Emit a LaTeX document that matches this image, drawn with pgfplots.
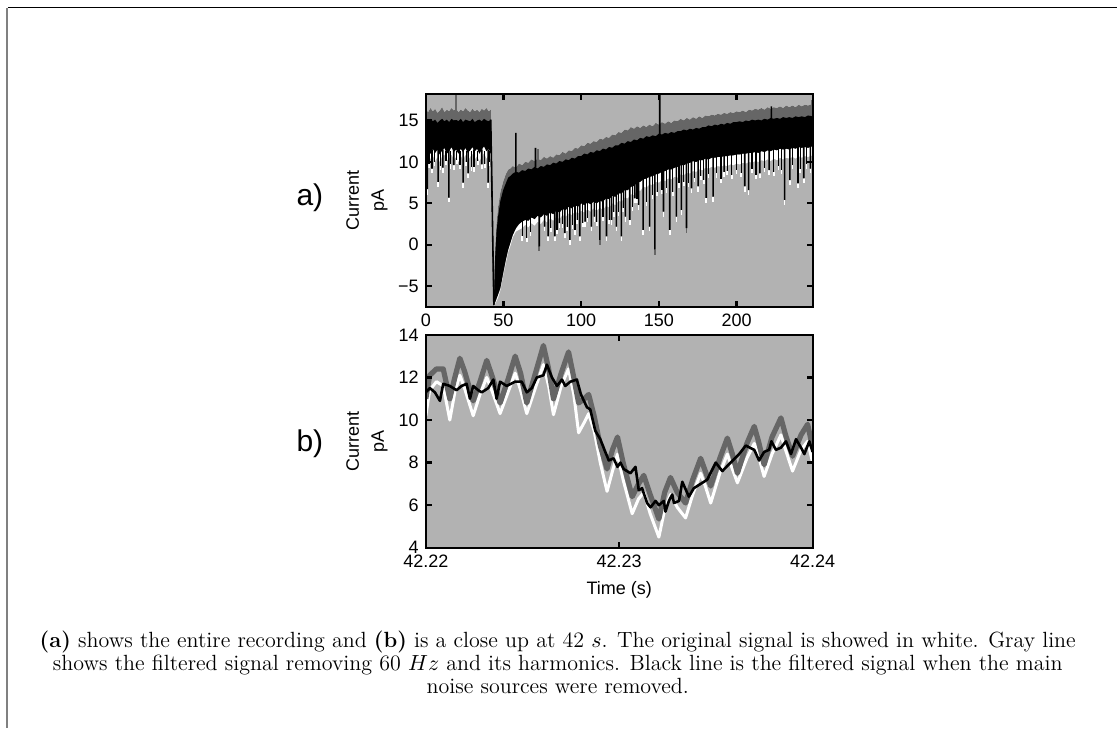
\documentclass[border=0pt]{standalone}
\usepackage{fontspec}
\newfontfamily\arial{Liberation Sans}
\usepackage{pgfplots}
\usepackage{pgfplotstable}
\pgfplotsset{compat=1.18}
\usepgfplotslibrary{fillbetween}
\definecolor{bggray}{gray}{0.7}
\definecolor{dgray}{gray}{0.4}
\definecolor{framegray}{gray}{0.5}

% envelopes of the whole recording: gray top, black top, black bottom, white bottom
\pgfplotstableread{
x gt bt bl wl
0 16.3 15.0 10.5 9.6
1.5 16.0 14.8 11.2 10.0
3 16.5 15.2 11.0 10.4
4.5 16.1 14.9 11.6 10.8
6 16.4 15.1 11.1 10.1
7.5 15.9 14.7 11.5 10.6
9 16.2 15.0 10.9 10.0
10.5 16.6 15.2 11.4 10.7
12 16.0 14.9 11.7 10.9
13.5 16.3 15.1 11.0 10.2
15 16.1 14.8 11.3 10.4
16.5 16.5 15.2 11.8 10.9
18 16.2 15.0 11.2 10.3
19.5 16.4 15.1 11.5 10.6
21 16.0 14.9 11.0 10.0
22.5 16.3 15.2 11.6 10.8
24 16.1 14.8 11.2 10.2
25.5 16.5 15.1 11.7 10.9
27 16.2 15.0 11.1 10.1
28.5 16.0 14.9 11.4 10.6
30 16.4 15.2 11.8 11.0
31.5 16.1 14.8 11.3 10.3
33 16.3 15.0 11.6 10.7
34.5 16.0 15.1 11.0 10.1
36 16.4 14.9 11.5 10.6
37.5 16.2 15.2 11.9 11.1
39 16.5 15.0 11.3 10.4
40.5 16.1 14.9 11.6 10.8
41.8 16.3 15.1 11.0 10.3
42.6 12 10 4 3
43.3 2 0 -5 -5.5
43.8 -7.0 -7.3 -7.4 -7.5
44.5 -1.0 -2.0 -7.0 -7.2
45.5 2.5 1.5 -6.5 -6.8
46.5 4.5 3.4 -6.0 -6.4
48 6.3 5.3 -5.2 -5.5
49.8 7.6 6.6 -3.4 -3.7
51.5 8.5 7.4 -1.8 -2.2
53 9.05 8.1 -0.6 -0.9
54.5 9.2 8.3 0.3 -0.1
56 9.5 8.6 1.2 0.9
58 9.3 8.8 2.0 1.6
60 9.8 8.7 2.5 1.8
62 9.6 9.0 2.8 2.0
64 10.0 8.9 3.0 2.4
66 9.9 9.2 2.9 2.1
68 10.3 9.1 3.3 2.6
70 10.1 9.4 3.1 2.3
72 10.4 9.2 3.5 2.8
74 10.2 9.5 3.3 2.5
76 10.6 9.4 3.7 3.0
78 10.4 9.7 3.5 2.7
80 10.7 9.6 3.9 3.2
82 10.5 9.9 3.7 2.9
84 10.9 9.8 4.1 3.4
86 10.8 10.1 3.9 3.1
88 11.2 10.0 4.3 3.6
90 11.0 10.3 4.2 3.4
92 11.4 10.2 4.6 3.8
94 11.3 10.5 4.4 3.6
96 11.7 10.4 4.8 4.0
98 11.6 10.7 4.6 3.8
100 12.0 10.7 5.0 4.1
102 11.9 11.0 4.8 3.9
104 12.3 10.9 5.1 4.3
106 12.2 11.2 4.9 4.0
108 12.5 11.1 5.2 4.4
110 12.4 11.4 5.0 4.1
112 12.8 11.3 5.3 4.5
114 12.7 11.6 5.2 4.2
116 13.0 11.5 5.6 4.7
118 12.9 11.8 5.5 4.5
120 13.3 11.7 5.9 5.0
122 13.2 12.0 5.8 4.8
124 13.6 12.0 6.2 5.3
126 13.5 12.3 6.2 5.2
128 13.9 12.2 6.6 5.7
130 13.8 12.5 6.6 5.6
132 14.2 12.4 7.0 6.1
134 14.0 12.7 7.1 6.0
136 14.3 12.6 7.5 6.6
138 14.1 12.9 7.6 6.5
140 14.4 12.8 7.9 7.0
142 14.2 13.1 8.0 6.9
144 14.5 13.0 8.2 7.3
146 14.3 13.2 8.3 7.2
148 14.7 13.1 8.5 7.6
150 14.5 13.4 8.6 7.5
152 14.8 13.3 8.8 7.8
154 14.6 13.5 8.9 7.7
156 14.9 13.4 9.1 8.0
158 14.7 13.6 9.1 7.9
160 15.0 13.5 9.3 8.2
162 14.9 13.7 9.4 8.1
164 15.2 13.7 9.6 8.5
166 15.0 13.9 9.6 8.4
168 15.3 13.8 9.8 8.7
170 15.1 14.0 9.9 8.6
172 15.4 13.9 10.1 8.9
174 15.2 14.1 10.0 8.8
176 15.5 14.0 10.2 9.1
178 15.3 14.2 10.2 9.0
180 15.6 14.2 10.4 9.3
182 15.5 14.4 10.3 9.2
184 15.7 14.3 10.5 9.4
186 15.6 14.5 10.5 9.3
188 15.8 14.4 10.6 9.5
190 15.7 14.6 10.6 9.4
192 15.9 14.5 10.7 9.6
194 15.8 14.7 10.7 9.5
196 16.0 14.6 10.8 9.7
198 15.9 14.8 10.8 9.6
200 16.1 14.8 10.9 9.8
202 16.0 14.9 10.9 9.7
204 16.2 14.8 11.0 9.9
206 16.0 15.0 11.0 9.8
208 16.3 14.9 11.1 10.0
210 16.2 15.1 11.1 9.9
212 16.4 15.0 11.2 10.1
214 16.3 15.1 11.1 10.0
216 16.5 15.0 11.3 10.2
218 16.3 15.2 11.2 10.1
220 16.6 15.1 11.4 10.3
222 16.4 15.3 11.3 10.1
224 16.6 15.2 11.5 10.4
226 16.5 15.3 11.4 10.2
228 16.7 15.2 11.6 10.5
230 16.5 15.4 11.5 10.3
232 16.8 15.3 11.6 10.5
234 16.6 15.4 11.5 10.4
236 16.8 15.3 11.7 10.6
238 16.6 15.5 11.6 10.4
240 16.9 15.4 11.8 10.7
242 16.7 15.5 11.7 10.5
244 16.9 15.4 11.8 10.7
246 16.8 15.6 11.7 10.6
249 17.0 15.5 11.9 10.8
}\recdata

\pgfplotsset{
  matlab/.style={
    scale only axis, width=193.5pt, height=106.5pt,
    axis background/.style={fill=bggray},
    axis on top,
    axis line style={line width=1.1pt},
    tick style={line width=1.1pt, black},
    tick align=inside, major tick length=3pt,
    tick label style={font=\arial\fontsize{9}{10}\selectfont},
    label style={font=\arial\fontsize{9}{12.5}\selectfont},
    ylabel style={at={(axis description cs:-0.152,0.5)}, anchor=center, align=center},
  }
}

\begin{document}
\begin{tikzpicture}
\draw[black, line width=0.5pt] (4pt,360pt) -- (558.5pt,360pt);
\draw[framegray, line width=1pt] (3.75pt,360pt) -- (3.75pt,0pt);

% a) whole recording
\begin{axis}[matlab, at={(213pt,210.5pt)}, anchor=south west,
  xmin=0, xmax=249, ymin=-7.5, ymax=18.2,
  xtick={0,50,100,150,200}, xticklabels={0,50,100,150,200},
  ytick={-5,0,5,10,15}, yticklabels={−5,0,5,10,15},
  ylabel={Current\\pA}]
\addplot[draw=none, name path=gt] table[x=x, y=gt] {\recdata};
\addplot[draw=none, name path=bt] table[x=x, y=bt] {\recdata};
\addplot[draw=none, name path=bl] table[x=x, y=bl] {\recdata};
\addplot[draw=none, name path=wl] table[x=x, y=wl] {\recdata};
\addplot[white] fill between[of=gt and wl];
\addplot[dgray] fill between[of=gt and bl];
\addplot[black] fill between[of=bt and bl];
% white tips of the downward spikes
\addplot[white, line width=0.8pt, unbounded coords=jump] coordinates {
(0.9,6.7)(0.9,6.0)(0.9,nan) (4.0,9.2)(4.0,8.6)(4.0,nan) (7.9,7.6)(7.9,7.0)(7.9,nan)
(11.0,9.3)(11.0,8.7)(11.0,nan) (14.8,5.7)(14.8,5.1)(14.8,nan) (18.0,9.6)(18.0,9.0)(18.0,nan)
(24.0,7.5)(24.0,6.9)(24.0,nan) (27.2,8.6)(27.2,8.0)(27.2,nan) (31.0,9.4)(31.0,8.8)(31.0,nan)
(36.0,9.7)(36.0,9.1)(36.0,nan) (40.1,7.5)(40.1,6.9)(40.1,nan)
(76.5,2.2)(76.5,1.6)(76.5,nan) (78.7,1.0)(78.7,0.4)(78.7,nan) (83.0,1.0)(83.0,0.4)(83.0,nan)
(86.0,2.6)(86.0,2.0)(86.0,nan) (89.4,1.4)(89.4,0.8)(89.4,nan) (92.7,0.6)(92.7,0.0)(92.7,nan)
(96.0,1.8)(96.0,1.2)(96.0,nan) (99.1,1.0)(99.1,0.4)(99.1,nan) (102.5,2.8)(102.5,2.2)(102.5,nan)
(106.6,2.2)(106.6,1.6)(106.6,nan) (108.5,3.4)(108.5,2.8)(108.5,nan) (116.3,1.0)(116.3,0.4)(116.3,nan)
(119.5,3.0)(119.5,2.4)(119.5,nan) (122.7,2.2)(122.7,1.6)(122.7,nan) (125.9,1.0)(125.9,0.4)(125.9,nan)
(128.5,3.4)(128.5,2.8)(128.5,nan) (131.3,3.0)(131.3,2.4)(131.3,nan) (134.5,5.6)(134.5,5.0)(134.5,nan)
(137.0,4.8)(137.0,4.2)(137.0,nan) (139.9,1.8)(139.9,1.2)(139.9,nan) (144.1,2.2)(144.1,1.6)(144.1,nan)
(153.0,4.0)(153.0,3.4)(153.0,nan) (157.0,1.8)(157.0,1.2)(157.0,nan) (161.3,3.4)(161.3,2.8)(161.3,nan)
(164.5,4.2)(164.5,3.6)(164.5,nan) (171.0,6.8)(171.0,6.2)(171.0,nan) (175.3,7.05)(175.3,6.4)(175.3,nan)
(180.5,5.65)(180.5,5.0)(180.5,nan) (184.9,5.8)(184.9,5.2)(184.9,nan) (192.0,8.8)(192.0,8.2)(192.0,nan)
(205.3,7.05)(205.3,6.4)(205.3,nan) (207.8,6.6)(207.8,6.0)(207.8,nan) (215.0,8.6)(215.0,8.0)(215.0,nan)
(221.0,9.0)(221.0,8.4)(221.0,nan) (231.0,5.4)(231.0,4.8)(231.0,nan) (234.3,7.8)(234.3,7.2)(234.3,nan)
(239.6,7.4)(239.6,6.8)(239.6,nan) (243.3,8.0)(243.3,7.4)(243.3,nan) (247.5,9.2)(247.5,8.6)(247.5,nan)
(2,9.8)(2,9.3)(2,nan) (5.5,10.0)(5.5,9.5)(5.5,nan) (9.5,9.5)(9.5,9.0)(9.5,nan) (13,10.1)(13,9.6)(13,nan)
(16,9.7)(16,9.2)(16,nan) (20,10.2)(20,9.7)(20,nan) (22,9.6)(22,9.1)(22,nan) (26,10.0)(26,9.5)(26,nan)
(29.5,9.4)(29.5,8.9)(29.5,nan) (33.5,10.1)(33.5,9.6)(33.5,nan) (38,9.8)(38,9.3)(38,nan) (41,10.0)(41,9.5)(41,nan)
(62,1.0)(62,0.5)(62,nan) (65,0.8)(65,0.3)(65,nan) (67.5,1.5)(67.5,1.0)(67.5,nan) (80.5,2.0)(80.5,1.5)(80.5,nan)
(84.5,1.8)(84.5,1.3)(84.5,nan) (88,2.5)(88,2.0)(88,nan) (91,2.2)(91,1.7)(91,nan) (94.5,2.4)(94.5,1.9)(94.5,nan)
(97.5,3.0)(97.5,2.5)(97.5,nan) (101,2.6)(101,2.1)(101,nan) (104,3.2)(104,2.7)(104,nan) (110,2.8)(110,2.3)(110,nan)
(114,3.4)(114,2.9)(114,nan) (118,3.0)(118,2.5)(118,nan) (121,3.9)(121,3.4)(121,nan) (124,4.0)(124,3.5)(124,nan)
(127,4.4)(127,3.9)(127,nan) (133,4.6)(133,4.1)(133,nan) (136,5.5)(136,5.0)(136,nan) (142,5.2)(142,4.7)(142,nan)
(146,6.0)(146,5.5)(146,nan) (149,6.4)(149,5.9)(149,nan) (152,6.6)(152,6.1)(152,nan) (155,6.8)(155,6.3)(155,nan)
(159,6.4)(159,5.9)(159,nan) (163,7.4)(163,6.9)(163,nan) (166,7.6)(166,7.1)(166,nan) (169,7.5)(169,7.0)(169,nan)
(173,8.1)(173,7.6)(173,nan) (177,8.3)(177,7.8)(177,nan) (179,7.8)(179,7.3)(179,nan) (182,8.5)(182,8.0)(182,nan)
(187,8.6)(187,8.1)(187,nan) (190,7.9)(190,7.4)(190,nan) (194,8.9)(194,8.4)(194,nan) (197,8.4)(197,7.9)(197,nan)
(200,9.0)(200,8.5)(200,nan) (203,8.7)(203,8.2)(203,nan) (210,9.1)(210,8.6)(210,nan) (212.5,8.4)(212.5,7.9)(212.5,nan)
(218,9.3)(218,8.8)(218,nan) (224,8.8)(224,8.3)(224,nan) (227,9.5)(227,9.0)(227,nan) (229,9.0)(229,8.5)(229,nan)
(236,9.6)(236,9.1)(236,nan) (241,9.1)(241,8.6)(241,nan) (245,9.7)(245,9.2)(245,nan)
};
% gray tips and gray upward spikes
\addplot[dgray, line width=0.8pt, unbounded coords=jump] coordinates {
(73.0,-0.2)(73.0,-0.8)(73.0,nan) (112.0,0.6)(112.0,0.0)(112.0,nan)
(147.4,-0.6)(147.4,-1.2)(147.4,nan) (167.8,2.0)(167.8,1.4)(167.8,nan)
(19.3,15.0)(19.3,18.2)(19.3,nan) (72.3,9.5)(72.3,11.5)(72.3,nan) (248.5,15.5)(248.5,17.5)(248.5,nan)
};
% black spikes
\addplot[black, line width=0.8pt, unbounded coords=jump] coordinates {
(0.9,11.5)(0.9,6.7)(0.9,nan) (4.0,11.5)(4.0,9.2)(4.0,nan) (7.9,11.5)(7.9,7.6)(7.9,nan)
(11.0,11.5)(11.0,9.3)(11.0,nan) (14.8,11.5)(14.8,5.7)(14.8,nan) (18.0,11.5)(18.0,9.6)(18.0,nan)
(24.0,11.5)(24.0,7.5)(24.0,nan) (27.2,11.5)(27.2,8.6)(27.2,nan) (31.0,11.5)(31.0,9.4)(31.0,nan)
(36.0,11.5)(36.0,9.7)(36.0,nan) (40.1,11.5)(40.1,7.5)(40.1,nan)
(73.0,3.8)(73.0,-0.2)(73.0,nan) (76.5,3.9)(76.5,2.2)(76.5,nan) (78.7,4.0)(78.7,1.0)(78.7,nan)
(83.0,4.0)(83.0,1.0)(83.0,nan) (86.0,4.3)(86.0,2.6)(86.0,nan) (89.4,4.4)(89.4,1.4)(89.4,nan)
(92.7,4.6)(92.7,0.6)(92.7,nan) (96.0,4.8)(96.0,1.8)(96.0,nan) (99.1,4.9)(99.1,1.0)(99.1,nan)
(102.5,5.0)(102.5,2.8)(102.5,nan) (106.6,5.2)(106.6,2.2)(106.6,nan) (108.5,5.3)(108.5,3.4)(108.5,nan)
(112.0,5.5)(112.0,0.6)(112.0,nan) (116.3,5.8)(116.3,1.0)(116.3,nan) (119.5,6.0)(119.5,3.0)(119.5,nan)
(122.7,6.1)(122.7,2.2)(122.7,nan) (125.9,6.4)(125.9,1.0)(125.9,nan) (128.5,6.8)(128.5,3.4)(128.5,nan)
(131.3,7.0)(131.3,3.0)(131.3,nan) (134.5,7.3)(134.5,5.6)(134.5,nan) (137.0,7.8)(137.0,4.8)(137.0,nan)
(139.9,8.1)(139.9,1.8)(139.9,nan) (144.1,8.4)(144.1,2.2)(144.1,nan) (147.4,8.7)(147.4,-0.6)(147.4,nan)
(153.0,9.0)(153.0,4.0)(153.0,nan) (157.0,9.3)(157.0,1.8)(157.0,nan) (161.3,9.5)(161.3,3.4)(161.3,nan)
(164.5,9.8)(164.5,4.2)(164.5,nan) (167.8,10.0)(167.8,2.0)(167.8,nan) (171.0,10.2)(171.0,6.8)(171.0,nan)
(175.3,10.3)(175.3,7.05)(175.3,nan) (180.5,10.6)(180.5,5.65)(180.5,nan) (184.9,10.7)(184.9,5.8)(184.9,nan)
(192.0,10.9)(192.0,8.8)(192.0,nan) (205.3,11.2)(205.3,7.05)(205.3,nan) (207.8,11.3)(207.8,6.6)(207.8,nan)
(215.0,11.4)(215.0,8.6)(215.0,nan) (221.0,11.5)(221.0,9.0)(221.0,nan) (231.0,11.8)(231.0,5.4)(231.0,nan)
(234.3,11.8)(234.3,7.8)(234.3,nan) (239.6,11.9)(239.6,7.4)(239.6,nan) (243.3,12.0)(243.3,8.0)(243.3,nan)
(247.5,12.0)(247.5,9.2)(247.5,nan)
(58.0,8.8)(58.0,13.5)(58.0,nan) (70.6,9.3)(70.6,11.7)(70.6,nan) (150.6,13.3)(150.6,18.2)(150.6,nan)
(222.4,15.2)(222.4,16.7)(222.4,nan) (41.8,15.1)(43.8,-7.3)(43.8,nan)
};
% shallow black spikes along the lower edge of the band
\addplot[black, line width=0.6pt, unbounded coords=jump] coordinates {
(2,11.3)(2,9.8)(2,nan) (5.5,11.3)(5.5,10.0)(5.5,nan) (9.5,11.3)(9.5,9.5)(9.5,nan) (13,11.3)(13,10.1)(13,nan)
(16,11.3)(16,9.7)(16,nan) (20,11.3)(20,10.2)(20,nan) (22,11.3)(22,9.6)(22,nan) (26,11.3)(26,10.0)(26,nan)
(29.5,11.3)(29.5,9.4)(29.5,nan) (33.5,11.3)(33.5,10.1)(33.5,nan) (38,11.3)(38,9.8)(38,nan) (41,11.3)(41,10.0)(41,nan)
(62,3.1)(62,1.0)(62,nan) (65,3.3)(65,0.8)(65,nan) (67.5,3.5)(67.5,1.5)(67.5,nan) (80.5,4.2)(80.5,2.0)(80.5,nan)
(84.5,4.4)(84.5,1.8)(84.5,nan) (88,4.6)(88,2.5)(88,nan) (91,4.7)(91,2.2)(91,nan) (94.5,4.8)(94.5,2.4)(94.5,nan)
(97.5,5.0)(97.5,3.0)(97.5,nan) (101,5.2)(101,2.6)(101,nan) (104,5.4)(104,3.2)(104,nan) (110,5.4)(110,2.8)(110,nan)
(114,5.6)(114,3.4)(114,nan) (118,5.9)(118,3.0)(118,nan) (121,6.2)(121,3.9)(121,nan) (124,6.5)(124,4.0)(124,nan)
(127,6.7)(127,4.4)(127,nan) (133,7.3)(133,4.6)(133,nan) (136,7.8)(136,5.5)(136,nan) (142,8.3)(142,5.2)(142,nan)
(146,8.6)(146,6.0)(146,nan) (149,8.9)(149,6.4)(149,nan) (152,9.1)(152,6.6)(152,nan) (155,9.3)(155,6.8)(155,nan)
(159,9.5)(159,6.4)(159,nan) (163,9.8)(163,7.4)(163,nan) (166,10.0)(166,7.6)(166,nan) (169,10.2)(169,7.5)(169,nan)
(173,10.4)(173,8.1)(173,nan) (177,10.5)(177,8.3)(177,nan) (179,10.6)(179,7.8)(179,nan) (182,10.7)(182,8.5)(182,nan)
(187,10.8)(187,8.6)(187,nan) (190,10.9)(190,7.9)(190,nan) (194,11.0)(194,8.9)(194,nan) (197,11.1)(197,8.4)(197,nan)
(200,11.2)(200,9.0)(200,nan) (203,11.2)(203,8.7)(203,nan) (210,11.4)(210,9.1)(210,nan) (212.5,11.5)(212.5,8.4)(212.5,nan)
(218,11.6)(218,9.3)(218,nan) (224,11.8)(224,8.8)(224,nan) (227,11.8)(227,9.5)(227,nan) (229,11.9)(229,9.0)(229,nan)
(236,12.0)(236,9.6)(236,nan) (241,12.1)(241,9.1)(241,nan) (245,12.1)(245,9.7)(245,nan)
};
\end{axis}

% b) close up at 42 s (x in ms after 42.22 s)
\begin{axis}[matlab, at={(213pt,90pt)}, anchor=south west,
  xmin=0, xmax=20, ymin=4, ymax=14,
  xtick={0,10,20}, xticklabels={42.22,42.23,42.24},
  ytick={4,6,8,10,12,14}, yticklabels={4,6,8,10,12,14},
  ylabel={Current\\pA}, xlabel={Time (s)}]
\addplot[white, line width=1.5pt, line join=round] coordinates {
(0,10.2)(0.2,11.4)(0.55,11.8)(0.9,11.6)(1.24,10.0)(1.5,11.3)(1.76,12.1)(2.0,11.5)(2.45,10.2)
(2.8,11.2)(3.15,12.0)(3.45,11.3)(3.84,10.3)(4.25,11.3)(4.62,12.2)(4.9,11.4)(5.22,10.3)(5.7,11.6)
(6.08,12.6)(6.35,11.6)(6.6,10.25)(7.0,11.6)(7.38,12.4)(7.65,11.2)(7.9,9.4)(8.2,9.9)(8.42,10.3)
(8.7,9.5)(9.02,8.0)(9.37,6.65)(9.65,7.6)(9.91,8.4)(10.2,7.2)(10.67,5.6)(11.0,6.3)(11.27,6.6)
(11.6,5.6)(12.05,4.5)(12.35,5.8)(12.65,6.5)(13.0,5.9)(13.43,5.4)(13.8,6.5)(14.21,7.5)(14.45,6.9)
(14.73,6.1)(15.2,7.5)(15.59,8.4)(15.85,7.7)(16.11,7.05)(16.6,8.2)(16.98,8.9)(17.2,8.3)(17.49,7.35)
(17.9,8.4)(18.36,9.3)(18.6,8.6)(18.96,7.6)(19.4,8.6)(19.74,9.0)(20,8.0)};
\addplot[dgray, line width=2.6pt, line join=round] coordinates {
(0,11.0)(0.2,12.1)(0.55,12.4)(0.9,12.4)(1.24,11.0)(1.5,12.0)(1.76,12.9)(2.0,12.3)(2.45,10.9)
(2.8,11.8)(3.15,12.8)(3.45,12.0)(3.84,10.8)(4.25,11.9)(4.62,13.0)(4.9,12.2)(5.22,10.8)(5.7,12.3)
(6.08,13.5)(6.35,12.4)(6.6,11.0)(7.0,12.2)(7.38,13.2)(7.65,12.0)(7.9,10.8)(8.2,11.0)(8.42,11.2)
(8.7,10.2)(9.02,8.8)(9.37,7.7)(9.65,8.6)(9.91,9.2)(10.2,8.0)(10.67,6.4)(11.0,7.0)(11.27,7.4)
(11.6,6.5)(12.05,5.35)(12.35,6.6)(12.65,7.3)(13.0,6.6)(13.43,6.1)(13.8,7.2)(14.21,8.2)(14.45,7.6)
(14.73,6.9)(15.2,8.2)(15.59,9.15)(15.85,8.4)(16.11,7.5)(16.6,8.9)(16.98,9.7)(17.2,9.0)(17.49,7.9)
(17.9,9.2)(18.36,10.1)(18.6,9.3)(18.96,8.3)(19.4,9.3)(19.74,9.8)(20,8.7)};
\addplot[black, line width=1.3pt, line join=round] coordinates {
(0,11.3)(0.21,11.5)(0.47,11.3)(0.73,10.9)(0.90,11.7)(1.24,11.6)(1.59,11.4)(1.85,11.6)(2.11,11.7)
(2.28,11.0)(2.45,11.6)(2.71,11.4)(2.89,11.3)(3.23,11.5)(3.49,11.9)(3.66,11.0)(3.84,11.8)(4.18,11.6)
(4.62,11.8)(4.96,11.8)(5.22,11.3)(5.48,11.5)(5.74,12.0)(6.08,12.1)(6.26,12.6)(6.52,12.0)(6.78,11.6)
(7.04,11.9)(7.21,11.6)(7.47,11.8)(7.81,11.9)(8.02,11.2)(8.33,10.6)(8.50,10.5)(8.76,9.5)(9.02,9.1)
(9.28,8.5)(9.46,8.1)(9.71,8.2)(9.91,7.8)(10.06,8.0)(10.23,7.7)(10.58,7.5)(10.84,7.8)(11.01,6.7)
(11.18,6.8)(11.44,6.1)(11.62,5.9)(11.88,6.2)(12.05,6.0)(12.31,6.2)(12.39,5.7)(12.57,6.2)(12.74,6.5)
(12.83,6.1)(13.09,6.2)(13.26,7.1)(13.60,6.4)(13.86,6.8)(14.21,7.0)(14.55,7.2)(14.99,8.0)(15.33,7.6)
(15.76,8.0)(16.20,8.4)(16.54,8.8)(16.98,8.6)(17.23,8.1)(17.49,8.5)(17.75,8.6)(17.87,9.0)(18.10,8.6)
(18.36,8.7)(18.62,9.0)(18.88,8.4)(19.14,9.1)(19.40,8.7)(19.57,8.4)(19.83,9.0)(20,8.5)};
\end{axis}

\node[font=\arial\fontsize{15}{18}\selectfont] at (155pt,265pt) {a)};
\node[font=\arial\fontsize{15}{18}\selectfont] at (155pt,142pt) {b)};

\node[align=center, font=\fontsize{11}{11.5}\selectfont] at (279pt,32.5pt)
{\textbf{(a)} shows the entire recording and \textbf{(b)} is a close up at 42 $s$. The original signal is showed in white. Gray line\\
shows the filtered signal removing 60 $Hz$ and its harmonics. Black line is the filtered signal when the main\\
noise sources were removed.};
\path (0,0) rectangle (558.5pt,364pt);
\end{tikzpicture}
\end{document}
